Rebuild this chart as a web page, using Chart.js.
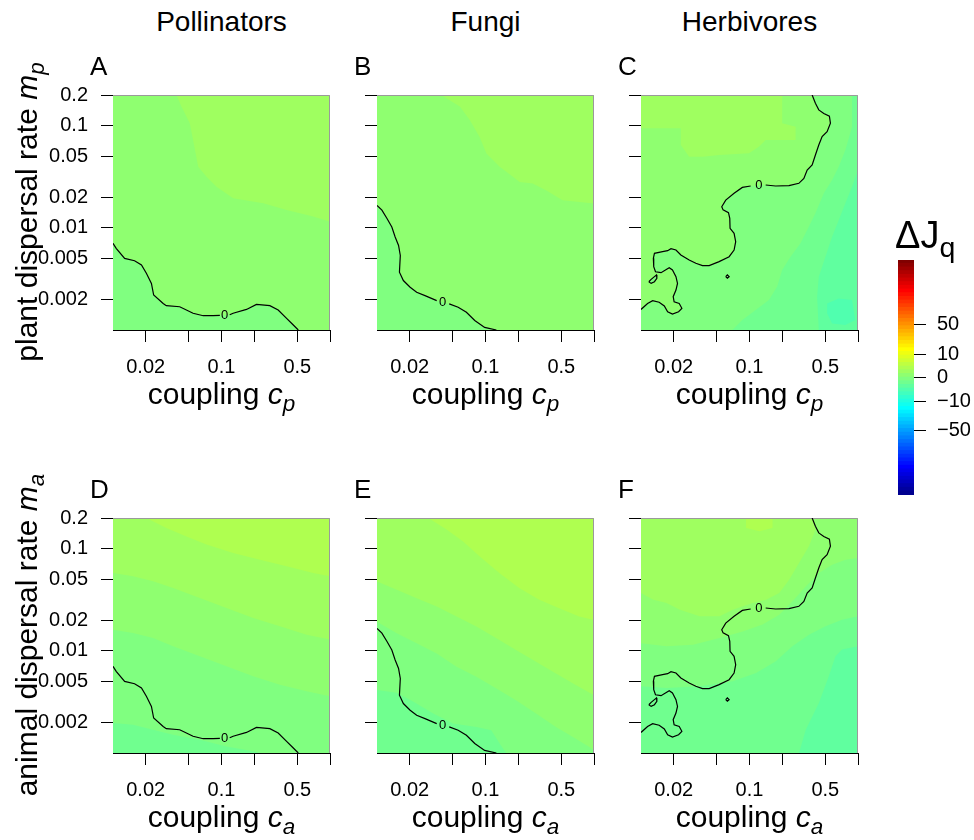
<!DOCTYPE html>
<html lang="en">
<head>
<meta charset="UTF-8">
<title>Delta J_q across coupling and dispersal</title>
<script src="https://cdn.jsdelivr.net/npm/chart.js@4"></script>
<style>
  body { margin: 0; background: #fff; font-family: "Liberation Sans", Arial, sans-serif; color: #000; }
  #fig { position: relative; width: 974px; height: 840px; overflow: hidden; }
  #fig canvas { position: absolute; }
  .t { position: absolute; white-space: nowrap; line-height: 1; }
  .col { font-size: 28px; transform: translateX(-50%); }
  .letter { font-size: 26px; }
  .xlab { font-size: 30px; transform: translateX(-50%); }
  .ylab { font-size: 30px; transform: translate(-50%, -50%) rotate(-90deg); }
  .t sub { font-size: 75%; vertical-align: -0.3em; line-height: 0; }
  .bar { font-size: 38px; }
</style>
</head>
<body>
<div id="fig"></div>
<script>
// ---- axes ----
const xTicks = [0.02, 0.05, 0.1, 0.2, 0.5, 1];
const xTickLabels = ['0.02', '', '0.1', '', '0.5', ''];
const yTicks = [0.2, 0.1, 0.05, 0.02, 0.01, 0.005, 0.002];
const yTickLabels = ['0.2', '0.1', '0.05', '0.02', '0.01', '0.005', '0.002'];
const barTicks = [50, 10, 0, -10, -50];
const barTickLabels = ['50', '10', '0', '\u221210', '\u221250'];
const columnTitles = ['Pollinators', 'Fungi', 'Herbivores'];
const panelLetters = ['A', 'B', 'C', 'D', 'E', 'F'];

// ---- zero contours [coupling, dispersal]; null = gap for the "0" label ----
const zeroPollinators = [[0.01,0.00706],[0.0107,0.0063],[0.0128,0.00503],[0.0158,0.00477],[0.0183,0.00433],[0.0203,0.00359],[0.0226,0.00286],[0.0237,0.0022],[0.029,0.00182],[0.031,0.00173],[0.0412,0.00169],[0.0547,0.00146],[0.0678,0.00138],[0.0838,0.00138],[0.0966,0.00139],null,[0.119,0.00141],[0.128,0.00146],[0.17,0.00159],[0.21,0.00178],[0.279,0.00173],[0.333,0.00157],[0.398,0.0013],[0.459,0.00112],[0.51,0.001]];
const zeroFungi = [[0.01,0.0166],[0.0111,0.0149],[0.0124,0.0123],[0.0137,0.0102],[0.0147,0.00813],[0.0158,0.00673],[0.0164,0.00537],[0.0161,0.00368],[0.0175,0.00305],[0.0202,0.00262],[0.0232,0.00234],[0.0277,0.00217],[0.0355,0.00194],null,[0.0463,0.0018],[0.056,0.00167],[0.0667,0.00149],[0.0796,0.00124],[0.0982,0.00106],[0.126,0.001]];
const zeroHerbivores = [[0.378,0.2],[0.405,0.166],[0.435,0.143],[0.484,0.132],[0.545,0.124],[0.557,0.106],[0.519,0.0875],[0.467,0.0782],[0.435,0.0648],[0.405,0.0517],[0.378,0.0413],[0.34,0.0369],[0.317,0.0305],[0.285,0.0273],[0.231,0.0259],[0.174,0.0257],[0.141,0.0263],null,[0.1025,0.0257],[0.0859,0.0249],[0.0721,0.0218],[0.0604,0.0187],[0.0555,0.0161],[0.0571,0.015],[0.064,0.0141],[0.0658,0.0124],[0.0662,0.00989],[0.0721,0.00884],[0.0746,0.00733],[0.0721,0.00607],[0.0649,0.00522],[0.0525,0.00467],[0.0425,0.00427],[0.0369,0.00427],[0.032,0.0045],[0.0278,0.00484],[0.0233,0.00542],[0.021,0.00607],[0.0189,0.00625],[0.0176,0.00598],[0.0158,0.00585],[0.0133,0.00563],[0.013,0.00503],[0.0131,0.00417],[0.0136,0.00372],[0.0153,0.00364],[0.0182,0.00407],[0.0195,0.00387],[0.021,0.00333],[0.0217,0.00286],[0.021,0.00246],[0.0198,0.00212],[0.0202,0.00189],[0.0225,0.00182],[0.0238,0.00163],[0.0222,0.00151],[0.0195,0.00143],[0.0176,0.00151],[0.0164,0.00172],[0.0147,0.00187],[0.0128,0.00194],[0.0115,0.00182],[0.01,0.00159]];
const loopHerbivores = [[0.0118,0.00297],[0.0124,0.00313],[0.0133,0.00333],[0.0139,0.00346],[0.014,0.00321],[0.0133,0.00297],[0.0124,0.00286],[0.0118,0.00297]];
const dotHerbivores = [[0.0604,0.00333],[0.0625,0.00346],[0.0649,0.00333],[0.0625,0.00321],[0.0604,0.00333]];
const labelPollinators = [0.107, 0.00138];
const labelFungi = [0.0403, 0.00187];
const labelHerbivores = [0.122, 0.0259];

// ---- colour bands: outline of each band, and its DeltaJq level (first level = background) ----
const bandA1 = [[0.0385,0.2],[0.0427,0.154],[0.051,0.1056],[0.0547,0.0725],[0.061,0.0397],[0.0728,0.0317],[0.09,0.0253],[0.128,0.0195],[0.243,0.0174],[0.398,0.015],[0.70,0.0129],[1,0.0115],[1,0.2]];
const bandA2 = zeroPollinators.concat([[0.01,0.001]]);
const levelsA = [0.1, 0.6, -0.1];

const bandB1 = [[0.039,0.2],[0.058,0.154],[0.0716,0.1136],[0.088,0.078],[0.102,0.0535],[0.135,0.0396],[0.179,0.0316],[0.206,0.0282],[0.272,0.0272],[0.361,0.0234],[0.513,0.0186],[1,0.0173],[1,0.2]];
const bandB2 = zeroFungi.concat([[0.01,0.001]]);
const levelsB = [0.1, 0.6, -0.1];

const bandC1 = [[0.01,0.2],[0.2,0.2],[0.2,0.106],[0.266,0.098],[0.266,0.0725],[0.141,0.0725],[0.122,0.0624],[0.099,0.0537],[0.0525,0.0517],[0.0369,0.0498],[0.0278,0.0498],[0.0233,0.0648],[0.0233,0.0944],[0.01,0.0944]];
const bandC2 = zeroHerbivores.concat([[0.01,0.001],[1,0.001],[1,0.2]]);
const bandC3 = loopHerbivores;
const bandC4 = [[0.881,0.2],[0.881,0.098],[0.765,0.0578],[0.664,0.0397],[0.577,0.0294],[0.484,0.0218],[0.405,0.0139],[0.34,0.00953],[0.295,0.00706],[0.239,0.00522],[0.2,0.00387],[0.18,0.00266],[0.151,0.00197],[0.114,0.00157],[0.0859,0.00125],[0.0695,0.001],[1,0.001],[1,0.2]];
const bandC5 = [[1,0.0369],[0.881,0.0253],[0.765,0.0174],[0.664,0.0119],[0.577,0.0082],[0.501,0.00522],[0.435,0.00333],[0.42,0.00212],[0.435,0.001],[1,0.001]];
const bandC6 = [[0.519,0.00182],[0.664,0.00204],[0.881,0.00197],[0.945,0.00125],[0.765,0.00112],[0.577,0.00116],[0.519,0.00146]];
const levelsC = [0.1, 0.6, -0.1, -0.1, -0.6, -1.5, -3];

const bandD1 = [[0.01,0.0578],[0.0153,0.0537],[0.0234,0.048],[0.0358,0.0413],[0.0631,0.033],[0.111,0.0263],[0.196,0.021],[0.345,0.0174],[0.609,0.0144],[1,0.0129],[1,0.2],[0.01,0.2]];
const bandD2 = [[0.0203,0.2],[0.031,0.16],[0.0475,0.132],[0.0728,0.11],[0.128,0.0908],[0.226,0.0782],[0.398,0.0673],[0.70,0.0578],[1,0.0537],[1,0.2]];
const bandD3 = [[0.01,0.0161],[0.0153,0.015],[0.0234,0.0134],[0.0358,0.0111],[0.0631,0.00884],[0.111,0.00706],[0.196,0.00563],[0.345,0.00467],[0.609,0.00402],[1,0.00359],[1,0.001],[0.01,0.001]];
const bandD4 = [[0.01,0.00197],[0.0153,0.00189],[0.0234,0.00169],[0.0358,0.00151],[0.0631,0.00135],[0.111,0.00116],[0.196,0.00104],[0.226,0.001],[0.01,0.001]];
const levelsD = [0.1, 0.6, 1.5, -0.1, -0.6];

const bandE1 = [[0.01,0.0478],[0.0152,0.0396],[0.0232,0.0328],[0.0355,0.0272],[0.0541,0.0217],[0.0824,0.0173],[0.126,0.0133],[0.191,0.0102],[0.292,0.00783],[0.446,0.00601],[0.679,0.00462],[1,0.00368],[1,0.2],[0.01,0.2]];
const bandE2 = [[0.0297,0.2],[0.0438,0.154],[0.0622,0.118],[0.0885,0.0841],[0.135,0.0577],[0.206,0.0411],[0.313,0.0316],[0.478,0.0261],[0.729,0.0217],[1,0.0201],[1,0.2]];
const bandE3 = [[0.01,0.0193],[0.0152,0.0149],[0.0232,0.0119],[0.0355,0.00944],[0.0541,0.00699],[0.0824,0.00557],[0.126,0.00428],[0.191,0.00329],[0.292,0.00243],[0.446,0.0018],[0.634,0.00144],[0.9,0.00115],[1,0.00106],[1,0.001],[0.01,0.001]];
const bandE4 = [[0.01,0.00413],[0.0152,0.00388],[0.0217,0.00317],[0.033,0.00243],[0.0504,0.00194],[0.0824,0.0018],[0.113,0.00167],[0.135,0.00124],[0.155,0.001],[0.01,0.001]];
const levelsE = [0.1, 0.6, 1.5, -0.1, -0.6];

const bandF1 = [[0.01,0.2],[0.379,0.2],[0.406,0.154],[0.353,0.106],[0.286,0.0725],[0.232,0.0498],[0.188,0.0369],[0.142,0.0317],[0.107,0.0294],[0.0701,0.0253],[0.053,0.0218],[0.0347,0.0218],[0.0228,0.0253],[0.0172,0.0294],[0.013,0.0317],[0.01,0.0369]];
const bandF2 = [[0.0929,0.2],[0.163,0.2],[0.163,0.16],[0.123,0.148],[0.0929,0.16]];
const bandF3 = [[0.01,0.0119],[0.0172,0.0111],[0.0301,0.0115],[0.053,0.0134],[0.0865,0.0155],[0.132,0.0181],[0.188,0.0226],[0.248,0.0305],[0.33,0.0428],[0.436,0.0578],[0.578,0.0698],[0.766,0.0782],[1,0.0811],[1,0.001],[0.01,0.001]];
const bandF4 = [[0.01,0.0045],[0.0172,0.00433],[0.0347,0.0045],[0.0701,0.00503],[0.115,0.00607],[0.175,0.0079],[0.248,0.0111],[0.353,0.0144],[0.502,0.0174],[0.713,0.0202],[1,0.0218],[1,0.001],[0.01,0.001]];
const bandF5 = [[0.286,0.001],[0.33,0.00169],[0.436,0.00309],[0.538,0.00563],[0.62,0.00884],[0.713,0.0103],[1,0.0111],[1,0.001]];
const levelsF = [0.1, 0.6, 1.5, -0.1, -0.6, -1.5];

// ---- colour scale (tim.colors 64, sqrt-stretched around 0) ----
const palette = [];
for (let i = 0; i < 64; i++) {
  let r, g, b;
  if (i < 8) { r = 0; g = 0; b = 0.5625 + 0.0625 * i; }
  else if (i < 24) { r = 0; g = 0.0625 * (i - 7); b = 1; }
  else if (i < 40) { r = 0.0625 * (i - 23); g = 1; b = 1 - 0.0625 * (i - 23); }
  else if (i < 56) { r = 1; g = 1 - 0.0625 * (i - 39); b = 0; }
  else { r = 1 - 0.0625 * (i - 55); g = 0; b = 0; }
  palette.push(`rgb(${Math.round(r * 255)},${Math.round(g * 255)},${Math.round(b * 255)})`);
}
const toT = v => Math.sign(v) * Math.sqrt(Math.abs(v) / 250);
const colorFor = v => palette[Math.min(63, Math.max(0, Math.floor((toT(v) + 1) / 2 * 64)))];

Chart.defaults.font.family = '"Liberation Sans", Arial, sans-serif';
Chart.defaults.color = '#000';

const fig = document.getElementById('fig');
const colLeft = [113, 377, 641];
const rowTop = [95, 518];
const plotW = 217, plotH = 235;

function addCanvas(left, top, w, h) {
  const c = document.createElement('canvas');
  c.width = w; c.height = h;
  c.style.left = left + 'px'; c.style.top = top + 'px';
  c.style.width = w + 'px'; c.style.height = h + 'px';
  fig.appendChild(c);
  return c;
}

function addText(cls, html, left, top) {
  const d = document.createElement('div');
  d.className = 't ' + cls;
  d.innerHTML = html;
  d.style.left = left + 'px';
  d.style.top = top + 'px';
  fig.appendChild(d);
}

// build once, read the real margins round the plot area, rebuild so the area sits on (left, top, w, h)
function placeChart(makeConfig, left, top, w, h, m) {
  let cv = addCanvas(left - m.l, top - m.t, m.l + w + m.r, m.t + h + m.b);
  let chart = new Chart(cv, makeConfig());
  const a = chart.chartArea;
  const got = { l: a.left, t: a.top, r: cv.width - a.right, b: cv.height - a.bottom };
  if (Math.abs(got.l - m.l) + Math.abs(got.t - m.t) + Math.abs(got.r - m.r) + Math.abs(got.b - m.b) > 0.5) {
    chart.destroy();
    cv.remove();
    cv = addCanvas(left - got.l, top - got.t, got.l + w + got.r, got.t + h + got.b);
    chart = new Chart(cv, makeConfig());
  }
  return chart;
}

// fills the colour bands under the contour lines, then writes the contour label
function bandPlugin(levels, bands, label) {
  return {
    id: 'bands',
    beforeDatasetsDraw(chart) {
      const { ctx, chartArea: a, scales: { x, y } } = chart;
      ctx.save();
      ctx.beginPath();
      ctx.rect(a.left, a.top, a.width, a.height);
      ctx.clip();
      ctx.fillStyle = colorFor(levels[0]);
      ctx.fillRect(a.left, a.top, a.width, a.height);
      bands.forEach((pts, k) => {
        ctx.beginPath();
        pts.filter(p => p).forEach((p, i) => {
          const px = x.getPixelForValue(p[0]), py = y.getPixelForValue(p[1]);
          if (i) ctx.lineTo(px, py); else ctx.moveTo(px, py);
        });
        ctx.closePath();
        ctx.fillStyle = colorFor(levels[k + 1]);
        ctx.fill();
      });
      ctx.restore();
      ctx.save();
      ctx.strokeStyle = '#9a9a9a';
      ctx.lineWidth = 1;
      ctx.beginPath();
      ctx.moveTo(a.left, a.top + 0.5);
      ctx.lineTo(a.right - 0.5, a.top + 0.5);
      ctx.lineTo(a.right - 0.5, a.bottom);
      ctx.stroke();
      ctx.restore();
    },
    afterDatasetsDraw(chart) {
      const { ctx, scales: { x, y } } = chart;
      ctx.save();
      ctx.font = '13px "Liberation Sans", Arial, sans-serif';
      ctx.fillStyle = '#000';
      ctx.textAlign = 'center';
      ctx.textBaseline = 'middle';
      ctx.fillText('0', x.getPixelForValue(label[0]), y.getPixelForValue(label[1]));
      ctx.restore();
    }
  };
}

const panels = [
  { levels: levelsA, bands: [bandA1, bandA2], lines: [zeroPollinators], label: labelPollinators },
  { levels: levelsB, bands: [bandB1, bandB2], lines: [zeroFungi], label: labelFungi },
  { levels: levelsC, bands: [bandC1, bandC2, bandC3, bandC4, bandC5, bandC6], lines: [zeroHerbivores, loopHerbivores, dotHerbivores], label: labelHerbivores },
  { levels: levelsD, bands: [bandD1, bandD2, bandD3, bandD4], lines: [zeroPollinators], label: labelPollinators },
  { levels: levelsE, bands: [bandE1, bandE2, bandE3, bandE4], lines: [zeroFungi], label: labelFungi },
  { levels: levelsF, bands: [bandF1, bandF2, bandF3, bandF4, bandF5], lines: [zeroHerbivores, loopHerbivores, dotHerbivores], label: labelHerbivores }
];

panels.forEach((p, n) => {
  const col = n % 3, row = Math.floor(n / 3);
  const makeConfig = () => ({
    type: 'scatter',
    data: {
      datasets: p.lines.map(line => ({
        data: line.map(q => q ? { x: q[0], y: q[1] } : { x: NaN, y: NaN }),
        showLine: true,
        borderColor: '#000',
        borderWidth: 1.2,
        pointRadius: 0,
        tension: 0,
        spanGaps: false
      }))
    },
    options: {
      responsive: false,
      animation: false,
      events: [],
      layout: { padding: { left: 0, top: 15, right: 12, bottom: 0 } },
      plugins: { legend: { display: false }, tooltip: { enabled: false } },
      scales: {
        x: {
          type: 'logarithmic', min: 0.01, max: 1,
          afterBuildTicks: s => { s.ticks = xTicks.map(v => ({ value: v })); },
          afterFit: s => { s.height = 50; },
          ticks: { callback: (v, i) => xTickLabels[i], font: { size: 20 }, color: '#000', padding: 13, autoSkip: false, maxRotation: 0 },
          grid: { drawOnChartArea: false, drawTicks: true, tickLength: 12, tickColor: '#000' },
          border: { display: true, color: '#000', width: 1 }
        },
        y: {
          type: 'logarithmic', min: 0.001, max: 0.2,
          afterBuildTicks: s => { s.ticks = yTicks.map(v => ({ value: v })); },
          afterFit: s => { s.width = 110; },
          ticks: { callback: (v, i) => col === 0 ? yTickLabels[i] : '', font: { size: 20 }, color: '#000', padding: 13, autoSkip: false },
          grid: { drawOnChartArea: false, drawTicks: true, tickLength: 12, tickColor: '#000' },
          border: { display: true, color: '#000', width: 1 }
        }
      }
    },
    plugins: [bandPlugin(p.levels, p.bands, p.label)]
  });
  placeChart(makeConfig, colLeft[col], rowTop[row], plotW, plotH, { l: 110, t: 15, r: 12, b: 50 });
});

// colour bar
placeChart(() => ({
  type: 'bar',
  data: {
    labels: [''],
    datasets: palette.map((c, i) => ({
      data: [[-1 + 2 * i / 64, -1 + 2 * (i + 1) / 64 + 0.004]],
      backgroundColor: c,
      borderWidth: 0,
      barPercentage: 1,
      categoryPercentage: 1,
      grouped: false
    }))
  },
  options: {
    responsive: false,
    animation: false,
    events: [],
    layout: { padding: { top: 10, bottom: 10, left: 0, right: 0 } },
    plugins: { legend: { display: false }, tooltip: { enabled: false } },
    scales: {
      x: { display: false },
      y: {
        position: 'right', min: -1, max: 1,
        afterBuildTicks: s => { s.ticks = barTicks.map(v => ({ value: toT(v) })); },
        afterFit: s => { s.width = 60; },
        ticks: { callback: (v, i) => barTickLabels[i], font: { size: 20 }, color: '#000', padding: 11, autoSkip: false },
        grid: { drawOnChartArea: false, drawTicks: true, tickLength: 12, tickColor: '#000' },
        border: { display: false }
      }
    }
  }
}), 898, 260, 16, 235, { l: 0, t: 10, r: 60, b: 10 });

// text
columnTitles.forEach((t, i) => addText('col', t, colLeft[i] + plotW / 2, 8));
panelLetters.forEach((t, n) => addText('letter', t, colLeft[n % 3] - 23, n < 3 ? 53 : 476));
[0, 1, 2].forEach(i => {
  addText('xlab', 'coupling <i>c</i><sub><i>p</i></sub>', colLeft[i] + plotW / 2, 379);
  addText('xlab', 'coupling <i>c</i><sub><i>a</i></sub>', colLeft[i] + plotW / 2, 802);
});
addText('ylab', 'plant dispersal rate <i>m</i><sub><i>p</i></sub>', 27, 212);
addText('ylab', 'animal dispersal rate <i>m</i><sub><i>a</i></sub>', 27, 635);
addText('bar', '\u0394J<sub>q</sub>', 895, 216);
</script>
</body>
</html>
